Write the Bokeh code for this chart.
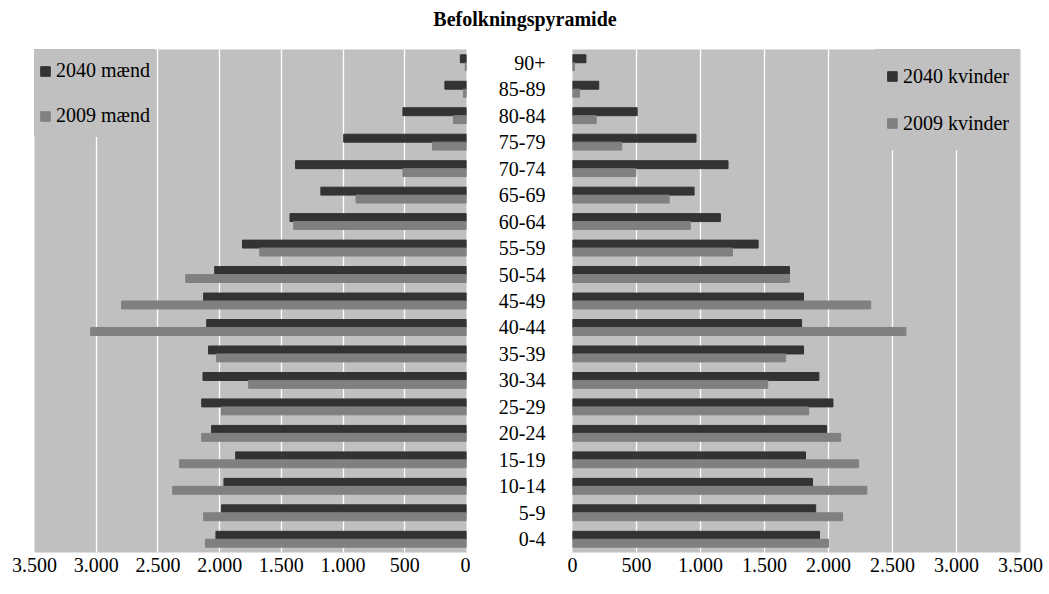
from bokeh.plotting import figure
from bokeh.layouts import column, row
from bokeh.models import (ColumnDataSource, FactorRange, Range1d, FixedTicker,
                          Legend, LegendItem)
from bokeh.transform import dodge
from bokeh.embed import file_html
from bokeh.resources import INLINE

# ---------------- data ----------------
title_text = "Befolkningspyramide"
ages = ["0-4", "5-9", "10-14", "15-19", "20-24", "25-29", "30-34", "35-39",
        "40-44", "45-49", "50-54", "55-59", "60-64", "65-69", "70-74",
        "75-79", "80-84", "85-89", "90+"]
men_2040 = [2030, 1985, 1965, 1870, 2065, 2145, 2135, 2090, 2105, 2130,
            2040, 1815, 1430, 1180, 1385, 995, 515, 175, 50]
men_2009 = [2115, 2130, 2380, 2325, 2145, 1985, 1765, 2025, 3045, 2795,
            2275, 1675, 1400, 895, 515, 275, 105, 25, 10]
women_2040 = [1930, 1900, 1875, 1820, 1985, 2035, 1925, 1805, 1790, 1805,
              1695, 1450, 1155, 950, 1215, 965, 505, 205, 105]
women_2009 = [2000, 2110, 2300, 2235, 2095, 1845, 1525, 1665, 2605, 2330,
              1695, 1250, 920, 755, 495, 385, 185, 55, 15]
tick_values = [0, 500, 1000, 1500, 2000, 2500, 3000, 3500]
tick_labels = ["0", "500", "1.000", "1.500", "2.000", "2.500", "3.000", "3.500"]
series_labels = ["2040 mænd", "2009 mænd", "2040 kvinder", "2009 kvinder"]

# ---------------- styling ----------------
FONT = "Liberation Serif"
PANEL = "#c0c0c0"
DARK = "#333333"
GREY = "#808080"

src = ColumnDataSource(dict(age=ages, m40=men_2040, m09=men_2009,
                            w40=women_2040, w09=women_2009))
overrides = {v: l for v, l in zip(tick_values, tick_labels)}


def style(p):
    p.background_fill_color = PANEL
    p.border_fill_color = "white"
    p.outline_line_color = None
    p.ygrid.visible = False
    p.xgrid.ticker = FixedTicker(ticks=tick_values)
    p.xgrid.grid_line_color = "white"
    p.xgrid.grid_line_width = 1.3
    ax = p.xaxis[0]
    ax.ticker = FixedTicker(ticks=tick_values)
    ax.major_label_overrides = overrides
    ax.axis_line_color = None
    ax.major_tick_line_color = None
    ax.minor_tick_line_color = None
    ax.major_tick_out = 0
    ax.major_label_standoff = 5
    ax.major_label_text_font = FONT
    ax.major_label_text_font_size = "20px"
    ax.major_label_text_color = "black"


def make_legend(items, location, pad, label_height, spacing):
    # border drawn in the panel colour so that the padding is applied
    lg = Legend(items=items, location=location, margin=0, padding=pad,
                spacing=spacing, label_height=label_height, glyph_height=12,
                glyph_width=12, label_standoff=5,
                label_text_font=FONT, label_text_font_size="20px",
                label_text_color="black",
                background_fill_color=PANEL, background_fill_alpha=1.0,
                border_line_color=PANEL, border_line_width=1)
    return lg


# ---------------- title ----------------
tf = figure(width=1049, height=44, title=title_text, toolbar_location=None,
            output_backend="svg", x_range=(0, 1), y_range=(0, 1),
            min_border=0)
tf.axis.visible = False
tf.grid.visible = False
tf.outline_line_color = None
tf.title.align = "center"
tf.title.text_font = FONT
tf.title.text_font_style = "bold"
tf.title.text_font_size = "20px"
tf.title.text_color = "black"

# ---------------- men ----------------
pm = figure(width=470, height=548, toolbar_location=None, output_backend="svg",
            y_range=FactorRange(factors=ages, range_padding=0),
            x_range=Range1d(3500, 0),
            min_border_left=34, min_border_right=4, min_border_top=5,
            min_border_bottom=40)
style(pm)
pm.yaxis.visible = False
r_m40 = pm.hbar(y=dodge("age", 0.15, range=pm.y_range), left=0, right="m40",
                height=0.3, color=DARK, source=src)
r_m09 = pm.hbar(y=dodge("age", -0.15, range=pm.y_range), left=0, right="m09",
                height=0.3, color=GREY, source=src)
lm = make_legend([LegendItem(label=series_labels[0], renderers=[r_m40]),
                  LegendItem(label=series_labels[1], renderers=[r_m09])],
                 "top_left", pad=4, label_height=33, spacing=12)
pm.add_layout(lm)

# ---------------- women ----------------
pw = figure(width=579, height=548, toolbar_location=None, output_backend="svg",
            y_range=FactorRange(factors=ages, range_padding=0),
            x_range=Range1d(0, 3500),
            min_border_left=102, min_border_right=29, min_border_top=5,
            min_border_bottom=40)
style(pw)
ya = pw.yaxis[0]
ya.axis_line_color = None
ya.major_tick_line_color = None
ya.minor_tick_line_color = None
ya.major_tick_out = 0
ya.major_label_standoff = 27
ya.major_label_text_font = FONT
ya.major_label_text_font_size = "20px"
ya.major_label_text_color = "black"
r_w40 = pw.hbar(y=dodge("age", 0.15, range=pw.y_range), left=0, right="w40",
                height=0.3, color=DARK, source=src)
r_w09 = pw.hbar(y=dodge("age", -0.15, range=pw.y_range), left=0, right="w09",
                height=0.3, color=GREY, source=src)
lw = make_legend([LegendItem(label=series_labels[2], renderers=[r_w40]),
                  LegendItem(label=series_labels[3], renderers=[r_w09])],
                 "top_right", pad=10, label_height=32, spacing=15)
pw.add_layout(lw)

layout = column(tf, row(pm, pw, spacing=0), spacing=0)
open("out.html", "w").write(file_html(layout, INLINE))
